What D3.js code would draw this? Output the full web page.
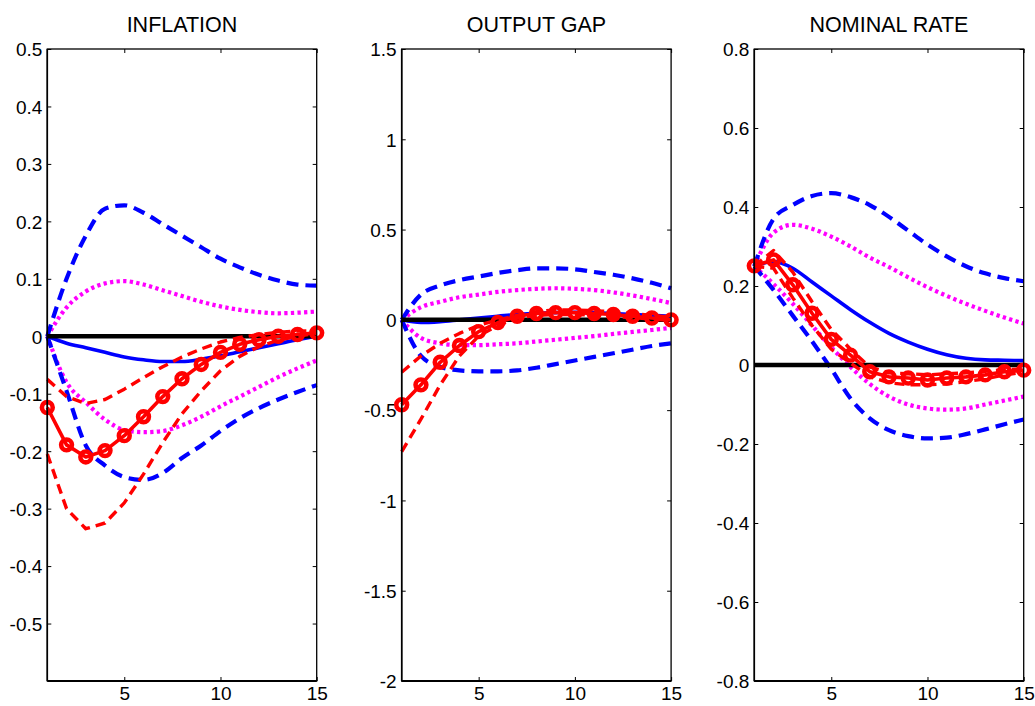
<!DOCTYPE html>
<html><head><meta charset="utf-8">
<script src="https://cdn.jsdelivr.net/npm/d3@7"></script>
<style>
body{margin:0;background:#fff}
text{font-family:"Liberation Sans",Arial,Helvetica,sans-serif;fill:#000}
</style>
</head><body>
<svg id="c" width="1035" height="706"></svg>
<script>
// ---------- data ----------
const horizons = [1,2,3,4,5,6,7,8,9,10,11,12,13,14,15];
const xTickValues = [5,10,15];
const titles = ["INFLATION","OUTPUT GAP","NOMINAL RATE"];

const inflTicks = [-0.5,-0.4,-0.3,-0.2,-0.1,0,0.1,0.2,0.3,0.4,0.5];
const gapTicks  = [-2,-1.5,-1,-0.5,0,0.5,1,1.5];
const rateTicks = [-0.8,-0.6,-0.4,-0.2,0,0.2,0.4,0.6,0.8];

// INFLATION
const inflBlue   = [0,-0.012,-0.02,-0.028,-0.036,-0.041,-0.044,-0.044,-0.04,-0.034,-0.027,-0.02,-0.013,-0.006,0];
const inflBlueHi = [0,0.10,0.175,0.222,0.228,0.215,0.195,0.175,0.155,0.135,0.12,0.107,0.097,0.09,0.088];
const inflBlueLo = [0,-0.095,-0.19,-0.225,-0.245,-0.25,-0.238,-0.212,-0.19,-0.165,-0.143,-0.125,-0.11,-0.097,-0.085];
const inflMagHi  = [0,0.05,0.078,0.092,0.096,0.09,0.08,0.07,0.06,0.052,0.046,0.042,0.04,0.041,0.043];
const inflMagLo  = [0,-0.08,-0.115,-0.145,-0.163,-0.167,-0.165,-0.155,-0.14,-0.122,-0.105,-0.088,-0.071,-0.056,-0.042];
const inflRed    = [-0.124,-0.189,-0.21,-0.199,-0.173,-0.14,-0.105,-0.074,-0.049,-0.028,-0.014,-0.006,0.0,0.003,0.006];
const inflRedHi  = [-0.075,-0.105,-0.117,-0.11,-0.092,-0.072,-0.053,-0.036,-0.022,-0.01,-0.002,0.003,0.007,0.009,0.01];
const inflRedLo  = [-0.205,-0.3,-0.335,-0.325,-0.29,-0.24,-0.185,-0.135,-0.095,-0.06,-0.035,-0.018,-0.007,0.0,0.005];

// OUTPUT GAP
const gapBlue   = [0,-0.015,-0.01,0.0,0.01,0.02,0.03,0.037,0.04,0.042,0.04,0.035,0.03,0.025,0.02];
const gapBlueHi = [0,0.14,0.19,0.22,0.24,0.26,0.275,0.285,0.285,0.28,0.265,0.25,0.23,0.205,0.175];
const gapBlueLo = [0,-0.2,-0.26,-0.28,-0.285,-0.285,-0.28,-0.265,-0.245,-0.225,-0.205,-0.185,-0.165,-0.145,-0.13];
const gapMagHi  = [0,0.07,0.1,0.125,0.14,0.155,0.165,0.172,0.175,0.172,0.165,0.152,0.135,0.115,0.093];
const gapMagLo  = [0,-0.1,-0.13,-0.14,-0.14,-0.135,-0.13,-0.12,-0.11,-0.1,-0.09,-0.078,-0.067,-0.056,-0.045];
const gapRed    = [-0.47,-0.36,-0.235,-0.142,-0.065,-0.015,0.02,0.035,0.04,0.04,0.035,0.03,0.02,0.01,0.0];
const gapRedHi  = [-0.29,-0.2,-0.13,-0.075,-0.03,0.0,0.025,0.045,0.055,0.055,0.05,0.045,0.035,0.025,0.015];
const gapRedLo  = [-0.73,-0.55,-0.36,-0.2,-0.09,-0.03,0.01,0.025,0.03,0.03,0.025,0.02,0.012,0.005,-0.005];

// NOMINAL RATE
const rateBlue   = [0.25,0.262,0.245,0.21,0.175,0.14,0.108,0.08,0.058,0.04,0.026,0.017,0.013,0.012,0.011];
const rateBlueHi = [0.25,0.37,0.405,0.428,0.435,0.425,0.405,0.375,0.34,0.305,0.275,0.25,0.232,0.22,0.212];
const rateBlueLo = [0.25,0.19,0.125,0.06,-0.01,-0.085,-0.135,-0.165,-0.18,-0.186,-0.184,-0.175,-0.163,-0.15,-0.138];
const rateMagHi  = [0.25,0.335,0.355,0.345,0.325,0.3,0.272,0.248,0.222,0.197,0.175,0.155,0.137,0.12,0.105];
const rateMagLo  = [0.25,0.205,0.155,0.1,0.045,-0.005,-0.048,-0.08,-0.1,-0.11,-0.113,-0.11,-0.1,-0.09,-0.08];
const rateRed    = [0.251,0.266,0.203,0.131,0.065,0.025,-0.017,-0.03,-0.033,-0.038,-0.033,-0.03,-0.025,-0.017,-0.013];
const rateRedHi  = [0.25,0.29,0.235,0.16,0.09,0.04,-0.005,-0.02,-0.022,-0.025,-0.022,-0.02,-0.016,-0.012,-0.01];
const rateRedLo  = [0.25,0.245,0.17,0.1,0.04,0.005,-0.03,-0.045,-0.05,-0.05,-0.048,-0.042,-0.035,-0.025,-0.018];

const panels = [
  {title:titles[0], domain:[-0.6,0.5], ticks:inflTicks, blue:inflBlue, blueHi:inflBlueHi, blueLo:inflBlueLo, magHi:inflMagHi, magLo:inflMagLo, red:inflRed, redHi:inflRedHi, redLo:inflRedLo},
  {title:titles[1], domain:[-2,1.5],   ticks:gapTicks,  blue:gapBlue,  blueHi:gapBlueHi,  blueLo:gapBlueLo,  magHi:gapMagHi,  magLo:gapMagLo,  red:gapRed,  redHi:gapRedHi,  redLo:gapRedLo},
  {title:titles[2], domain:[-0.8,0.8], ticks:rateTicks, blue:rateBlue, blueHi:rateBlueHi, blueLo:rateBlueLo, magHi:rateMagHi, magLo:rateMagLo, red:rateRed, redHi:rateRedHi, redLo:rateRedLo}
];

// ---------- layout ----------
const svg = d3.select("#c");
const lefts = [47.3, 401.7, 754.3];
const pw = 269.4, plotTop = 49, plotBottom = 681;

panels.forEach((p,i)=>{
  const g = svg.append("g").attr("transform",`translate(${lefts[i]},0)`);
  const x = d3.scaleLinear().domain([1,15]).range([0,pw]);
  const y = d3.scaleLinear().domain(p.domain).range([plotBottom,plotTop]);

  // axes with inward ticks
  const fmt = v => String(v);
  const ax = g.append("g").attr("class","axes");
  const yl = ax.append("g").call(d3.axisLeft(y).tickValues(p.ticks).tickSize(-4).tickPadding(5).tickFormat(fmt));
  ax.append("g").attr("transform",`translate(${pw},0)`).call(d3.axisRight(y).tickValues(p.ticks).tickSize(-4).tickFormat(""));
  const xb = ax.append("g").attr("transform",`translate(0,${plotBottom})`).call(d3.axisBottom(x).tickValues(xTickValues).tickSize(-4).tickPadding(6).tickFormat(fmt));
  ax.append("g").attr("transform",`translate(0,${plotTop})`).call(d3.axisTop(x).tickValues(xTickValues).tickSize(-4).tickFormat(""));
  ax.selectAll(".domain").remove();
  ax.selectAll(".tick line").attr("stroke","#000").attr("stroke-width",1);
  ax.selectAll("text").attr("font-size",19).attr("fill","#000")
    .style("font-family",'"Liberation Sans",Arial,sans-serif');
  yl.selectAll("text").attr("dy","0.36em");
  xb.selectAll("text").attr("dy","0.71em");

  // lines
  const lineSmooth = arr => d3.line().x((d,k)=>x(horizons[k])).y(d=>y(d)).curve(d3.curveMonotoneX)(arr);
  const lineLin = arr => d3.line().x((d,k)=>x(horizons[k])).y(d=>y(d))(arr);
  const plot = g.append("g");
  const addPath = (dstr, color, w, dash) => plot.append("path").attr("d",dstr).attr("fill","none")
      .attr("stroke",color).attr("stroke-width",w).attr("stroke-dasharray",dash||null)
      .attr("stroke-linejoin","round");

  addPath(lineSmooth(p.magHi), "#ff00ff", 4.2, "3.3,3.3");
  addPath(lineSmooth(p.magLo), "#ff00ff", 4.2, "3.3,3.3");
  addPath(lineSmooth(p.blueHi), "#0000ff", 4.2, "12,7");
  addPath(lineSmooth(p.blueLo), "#0000ff", 4.2, "12,7");
  addPath(lineSmooth(p.blue), "#0000ff", 3.6);
  // zero line
  plot.append("line").attr("x1",x(1)).attr("x2",x(15)).attr("y1",y(0)).attr("y2",y(0))
      .attr("stroke","#000").attr("stroke-width",4.5);
  addPath(lineLin(p.redHi), "#ff0000", 3.4, "10,6");
  addPath(lineLin(p.redLo), "#ff0000", 3.4, "10,6");
  addPath(lineLin(p.red), "#ff0000", 3.6);
  plot.selectAll("circle.m").data(p.red).join("circle").attr("class","m")
      .attr("cx",(d,k)=>x(horizons[k])).attr("cy",d=>y(d)).attr("r",5.4)
      .attr("fill","none").attr("stroke","#ff0000").attr("stroke-width",4.6);

  // box
  g.append("rect").attr("x",0).attr("y",plotTop).attr("width",pw).attr("height",plotBottom-plotTop)
    .attr("fill","none").attr("stroke","#000").attr("stroke-width",1.3);
  g.append("line").attr("x1",0).attr("x2",pw).attr("y1",plotBottom).attr("y2",plotBottom)
    .attr("stroke","#000").attr("stroke-width",2.2);
  g.append("line").attr("x1",0).attr("x2",0).attr("y1",plotTop).attr("y2",plotBottom)
    .attr("stroke","#000").attr("stroke-width",1.6);

  // title
  g.append("text").attr("x",pw/2).attr("y",32).attr("text-anchor","middle")
    .attr("font-size",21.5).text(p.title);
});
</script>
</body></html>
